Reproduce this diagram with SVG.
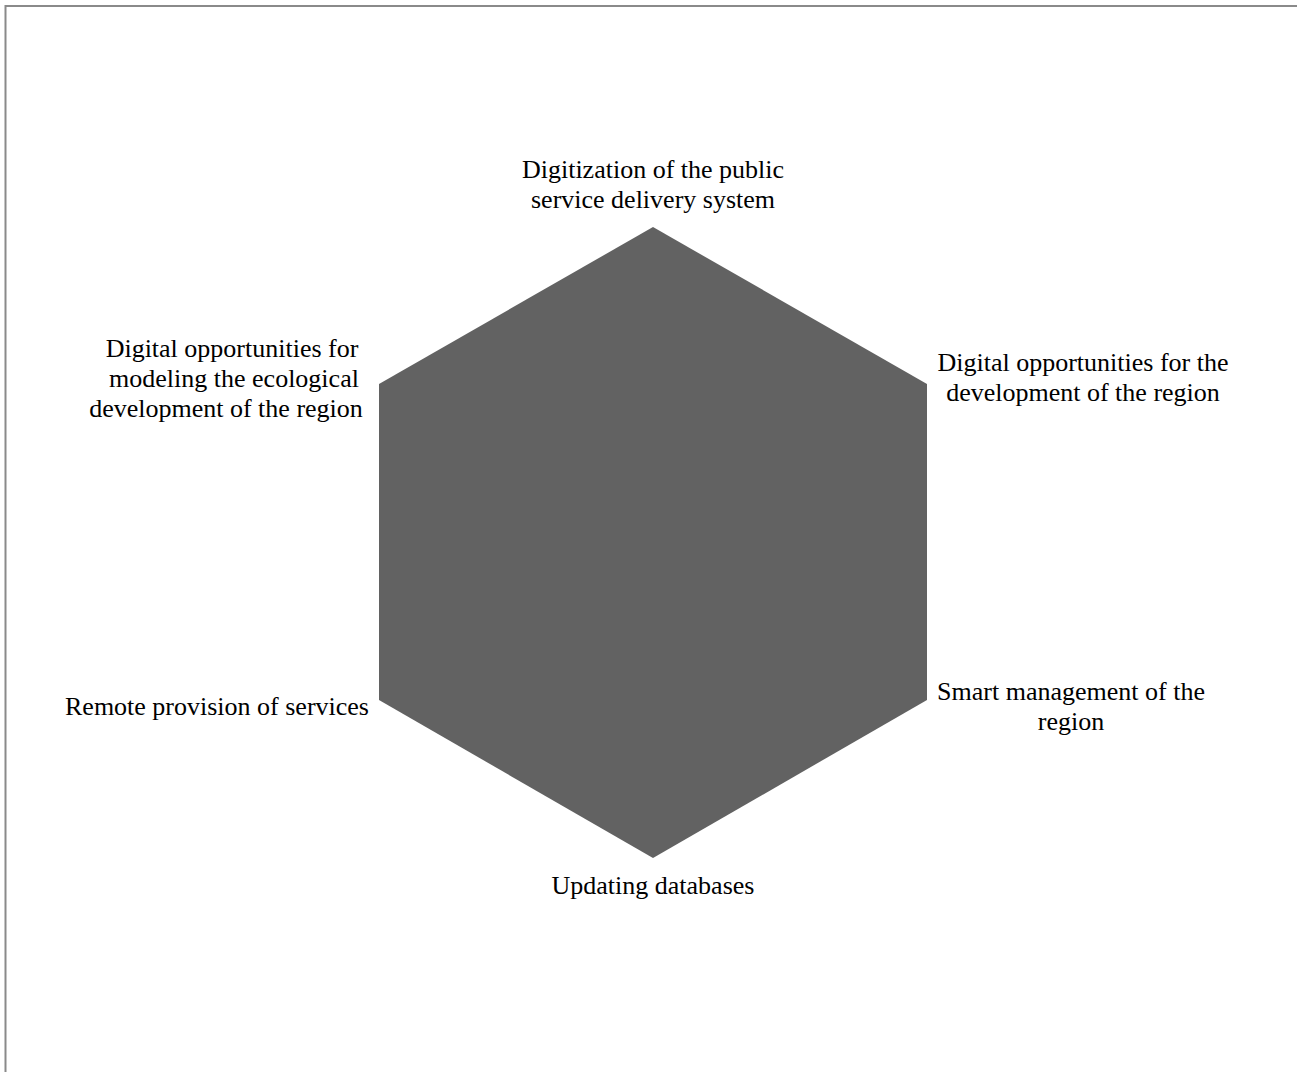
<svg xmlns="http://www.w3.org/2000/svg" width="1298" height="1072" viewBox="0 0 1298 1072">
<style>
.t{font-family:"Liberation Serif","Times New Roman",serif;font-size:26px;fill:#000;text-anchor:middle}
</style>
<rect width="1298" height="1072" fill="#fff"/>
<path d="M5.5,1072 V6 H1297" fill="none" stroke="#8a8a8a" stroke-width="2"/>
<g id="hexagon">
<polygon points="653,227 927,384 927,700 653,858 379,700 379,384" fill="#626262"/>
</g>
<g id="connectors"></g>
<g id="n-top"><text class="t" x="653" y="178">Digitization of the public</text><text class="t" x="653" y="208">service delivery system</text></g>
<g id="n-upper-right"><text class="t" x="1083" y="371">Digital opportunities for the</text><text class="t" x="1083" y="401">development of the region</text></g>
<g id="n-lower-right"><text class="t" x="1071" y="700">Smart management of the</text><text class="t" x="1071" y="730">region</text></g>
<g id="n-bottom"><text class="t" x="653" y="894">Updating databases</text></g>
<g id="n-lower-left"><text class="t" x="217" y="715">Remote provision of services</text></g>
<g id="n-upper-left"><text class="t" x="232" y="357">Digital opportunities for</text><text class="t" x="234" y="387">modeling the ecological</text><text class="t" x="226" y="417">development of the region</text></g>
</svg>
